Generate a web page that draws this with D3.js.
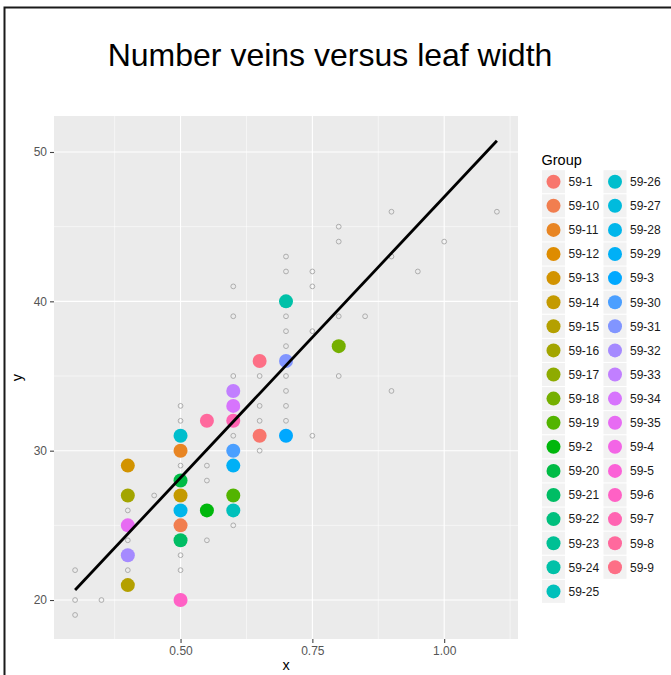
<!DOCTYPE html>
<html>
<head>
<meta charset="utf-8">
<script src="https://cdn.jsdelivr.net/npm/d3@7"></script>
<style>
  html, body { margin: 0; padding: 0; background: #fff; }
  svg { display: block; font-family: "Liberation Sans", Arial, Helvetica, sans-serif; }
</style>
</head>
<body>
<svg id="chart" width="671" height="675"></svg>
<script>
// ---- DATA ----
const title = "Number veins versus leaf width";
const groups = ["59-1","59-10","59-11","59-12","59-13","59-14","59-15","59-16","59-17","59-18","59-19",
  "59-2","59-20","59-21","59-22","59-23","59-24","59-25","59-26","59-27","59-28","59-29",
  "59-3","59-30","59-31","59-32","59-33","59-34","59-35","59-4","59-5","59-6","59-7","59-8","59-9"];

// all observations (grey hollow circles)
const obsX = [0.3,0.3,0.35,0.3, 0.4,0.4,0.4, 0.45, 0.5,0.5,0.5,0.5,0.5, 0.55,0.55,0.55,
  0.6,0.6,0.6,0.6,0.6, 0.65,0.65,0.65,0.65, 0.7,0.7,0.7,0.7,0.7,0.7,0.7,0.7,0.7,
  0.75,0.75,0.75,0.75, 0.8,0.8,0.8,0.8, 0.85, 0.9,0.9,0.9, 0.95, 1.0, 1.1];
const obsY = [22,20,20,19, 26,24,22, 27, 33,32,29,23,22, 29,28,24,
  41,39,35,31,25, 35,33,32,30, 43,42,39,38,37,35,34,33,32,
  42,41,38,31, 45,44,39,35, 39, 46,43,34, 42, 44, 46];

// highlighted group points (filled circles)
const ptGroup = ["59-13","59-16","59-35","59-32","59-15",
  "59-26","59-11","59-20","59-14","59-28","59-10","59-21","59-6",
  "59-8","59-2",
  "59-33","59-34","59-7","59-30","59-29","59-19","59-25",
  "59-9","59-1",
  "59-24","59-31","59-3",
  "59-18"];
const ptX = [0.4,0.4,0.4,0.4,0.4,
  0.5,0.5,0.5,0.5,0.5,0.5,0.5,0.5,
  0.55,0.55,
  0.6,0.6,0.6,0.6,0.6,0.6,0.6,
  0.65,0.65,
  0.7,0.7,0.7,
  0.8];
const ptY = [29,27,25,23,21,
  31,30,28,27,26,25,24,20,
  32,26,
  34,33,32,30,29,27,26,
  36,31,
  40,36,31,
  37];

// regression line: y = intercept + slope * x, drawn over x range
const fitIntercept = 9.39;
const fitSlope = 37.6;
const fitRange = [0.3, 1.1];

const xTicks = [0.5, 0.75, 1.0];
const xTickLabels = ["0.50", "0.75", "1.00"];
const xMinor = [0.375, 0.625, 0.875, 1.125];
const yTicks = [20, 30, 40, 50];
const yTickLabels = ["20", "30", "40", "50"];
const yMinor = [25, 35, 45];

// ---- COLOURS: ggplot hue palette (polar Luv, c=100, l=65) ----
function hclLuv(h, c, l) {
  const Xn = 95.047, Yn = 100, Zn = 108.883;
  const Y = l > 8 ? Yn * Math.pow((l + 16) / 116, 3) : Yn * l / 903.3;
  const den = Xn + 15 * Yn + 3 * Zn;
  const un = 4 * Xn / den, vn = 9 * Yn / den;
  const hr = h * Math.PI / 180;
  const u = c * Math.cos(hr) / (13 * l) + un;
  const v = c * Math.sin(hr) / (13 * l) + vn;
  const X = Y * 9 * u / (4 * v);
  const Z = Y * (12 - 3 * u - 20 * v) / (4 * v);
  const x = X / 100, y = Y / 100, z = Z / 100;
  let r = 3.240479 * x - 1.537150 * y - 0.498535 * z;
  let g = -0.969256 * x + 1.875992 * y + 0.041556 * z;
  let b = 0.055648 * x - 0.204043 * y + 1.057311 * z;
  const gam = t => { t = t <= 0.0031308 ? 12.92 * t : 1.055 * Math.pow(t, 1 / 2.4) - 0.055; return Math.round(Math.max(0, Math.min(1, t)) * 255); };
  return d3.rgb(gam(r), gam(g), gam(b)).formatHex();
}
const n = groups.length;
const palette = groups.map((g, i) => hclLuv(15 + 360 * i / n, 100, 65));
const color = d3.scaleOrdinal().domain(groups).range(palette);

// ---- LAYOUT ----
const svg = d3.select("#chart");
const panel = { left: 54, top: 116, right: 518, bottom: 639 };

const x = d3.scaleLinear().domain([0.26, 1.14]).range([panel.left, panel.right]);
const y = d3.scaleLinear().domain([17.39, 52.41]).range([panel.bottom, panel.top]);

// frame
svg.append("path")
  .attr("d", `M4.5,675 L4.5,7.5 L671,7.5`)
  .attr("fill", "none").attr("stroke", "#1a1a1a").attr("stroke-width", 2);

// title
svg.append("text")
  .attr("x", 330).attr("y", 66)
  .attr("text-anchor", "middle")
  .attr("font-size", 32).attr("fill", "#000")
  .text(title);

// panel background
svg.append("rect")
  .attr("x", panel.left).attr("y", panel.top)
  .attr("width", panel.right - panel.left).attr("height", panel.bottom - panel.top)
  .attr("fill", "#EBEBEB");

const grid = svg.append("g");
grid.selectAll(".xminor").data(xMinor).join("line")
  .attr("x1", d => x(d)).attr("x2", d => x(d))
  .attr("y1", panel.top).attr("y2", panel.bottom)
  .attr("stroke", "#fff").attr("stroke-width", 0.55);
grid.selectAll(".yminor").data(yMinor).join("line")
  .attr("y1", d => y(d)).attr("y2", d => y(d))
  .attr("x1", panel.left).attr("x2", panel.right)
  .attr("stroke", "#fff").attr("stroke-width", 0.55);
grid.selectAll(".xmajor").data(xTicks).join("line")
  .attr("x1", d => x(d)).attr("x2", d => x(d))
  .attr("y1", panel.top).attr("y2", panel.bottom)
  .attr("stroke", "#fff").attr("stroke-width", 1.1);
grid.selectAll(".ymajor").data(yTicks).join("line")
  .attr("y1", d => y(d)).attr("y2", d => y(d))
  .attr("x1", panel.left).attr("x2", panel.right)
  .attr("stroke", "#fff").attr("stroke-width", 1.1);

// axes
const xAxis = d3.axisBottom(x).tickValues(xTicks).tickFormat((d, i) => xTickLabels[i]).tickSize(4).tickPadding(3);
const gx = svg.append("g").attr("transform", `translate(0,${panel.bottom})`).call(xAxis);
const yAxis = d3.axisLeft(y).tickValues(yTicks).tickFormat((d, i) => yTickLabels[i]).tickSize(4).tickPadding(3);
const gy = svg.append("g").attr("transform", `translate(${panel.left},0)`).call(yAxis);
[gx, gy].forEach(g => {
  g.select(".domain").remove();
  g.selectAll(".tick line").attr("stroke", "#444").attr("stroke-width", 1.1);
  g.selectAll(".tick text").attr("fill", "#555").attr("font-size", 12)
    .attr("font-family", '"Liberation Sans", Arial, sans-serif');
});

svg.append("text").attr("x", (panel.left + panel.right) / 2).attr("y", 670)
  .attr("text-anchor", "middle").attr("font-size", 14.5).attr("fill", "#000").text("x");
svg.append("text")
  .attr("transform", `translate(22,${(panel.top + panel.bottom) / 2}) rotate(-90)`)
  .attr("text-anchor", "middle").attr("font-size", 14.5).attr("fill", "#000").text("y");

// grey observations
svg.append("g").selectAll("circle").data(obsX.map((v, i) => [v, obsY[i]])).join("circle")
  .attr("cx", d => x(d[0])).attr("cy", d => y(d[1])).attr("r", 2.4)
  .attr("fill", "none").attr("stroke", "#A6A6A6").attr("stroke-width", 0.9);

// group points
svg.append("g").selectAll("circle").data(ptX.map((v, i) => [v, ptY[i], ptGroup[i]])).join("circle")
  .attr("cx", d => x(d[0])).attr("cy", d => y(d[1])).attr("r", 7)
  .attr("fill", d => color(d[2]));

// regression line
svg.append("line")
  .attr("x1", x(fitRange[0])).attr("y1", y(fitIntercept + fitSlope * fitRange[0]))
  .attr("x2", x(fitRange[1])).attr("y2", y(fitIntercept + fitSlope * fitRange[1]))
  .attr("stroke", "#000").attr("stroke-width", 2.8);

// legend
const leg = svg.append("g");
leg.append("text").attr("x", 541.5).attr("y", 165).attr("font-size", 14.5).attr("fill", "#000").text("Group");
const rows = 18, rowH = 24.1, row0 = 181.7;
const colKeyX = [553.5, 615], colTextX = [568.5, 630];
groups.forEach((g, i) => {
  const col = Math.floor(i / rows), row = i % rows;
  const cy = row0 + row * rowH;
  leg.append("rect").attr("x", colKeyX[col] - 11.5).attr("y", cy - 11.5)
    .attr("width", 23).attr("height", 23).attr("fill", "#F2F2F2");
  leg.append("circle").attr("cx", colKeyX[col]).attr("cy", cy).attr("r", 7).attr("fill", color(g));
  leg.append("text").attr("x", colTextX[col]).attr("y", cy + 4.3)
    .attr("font-size", 12).attr("fill", "#1a1a1a").text(g);
});
</script>
</body>
</html>
